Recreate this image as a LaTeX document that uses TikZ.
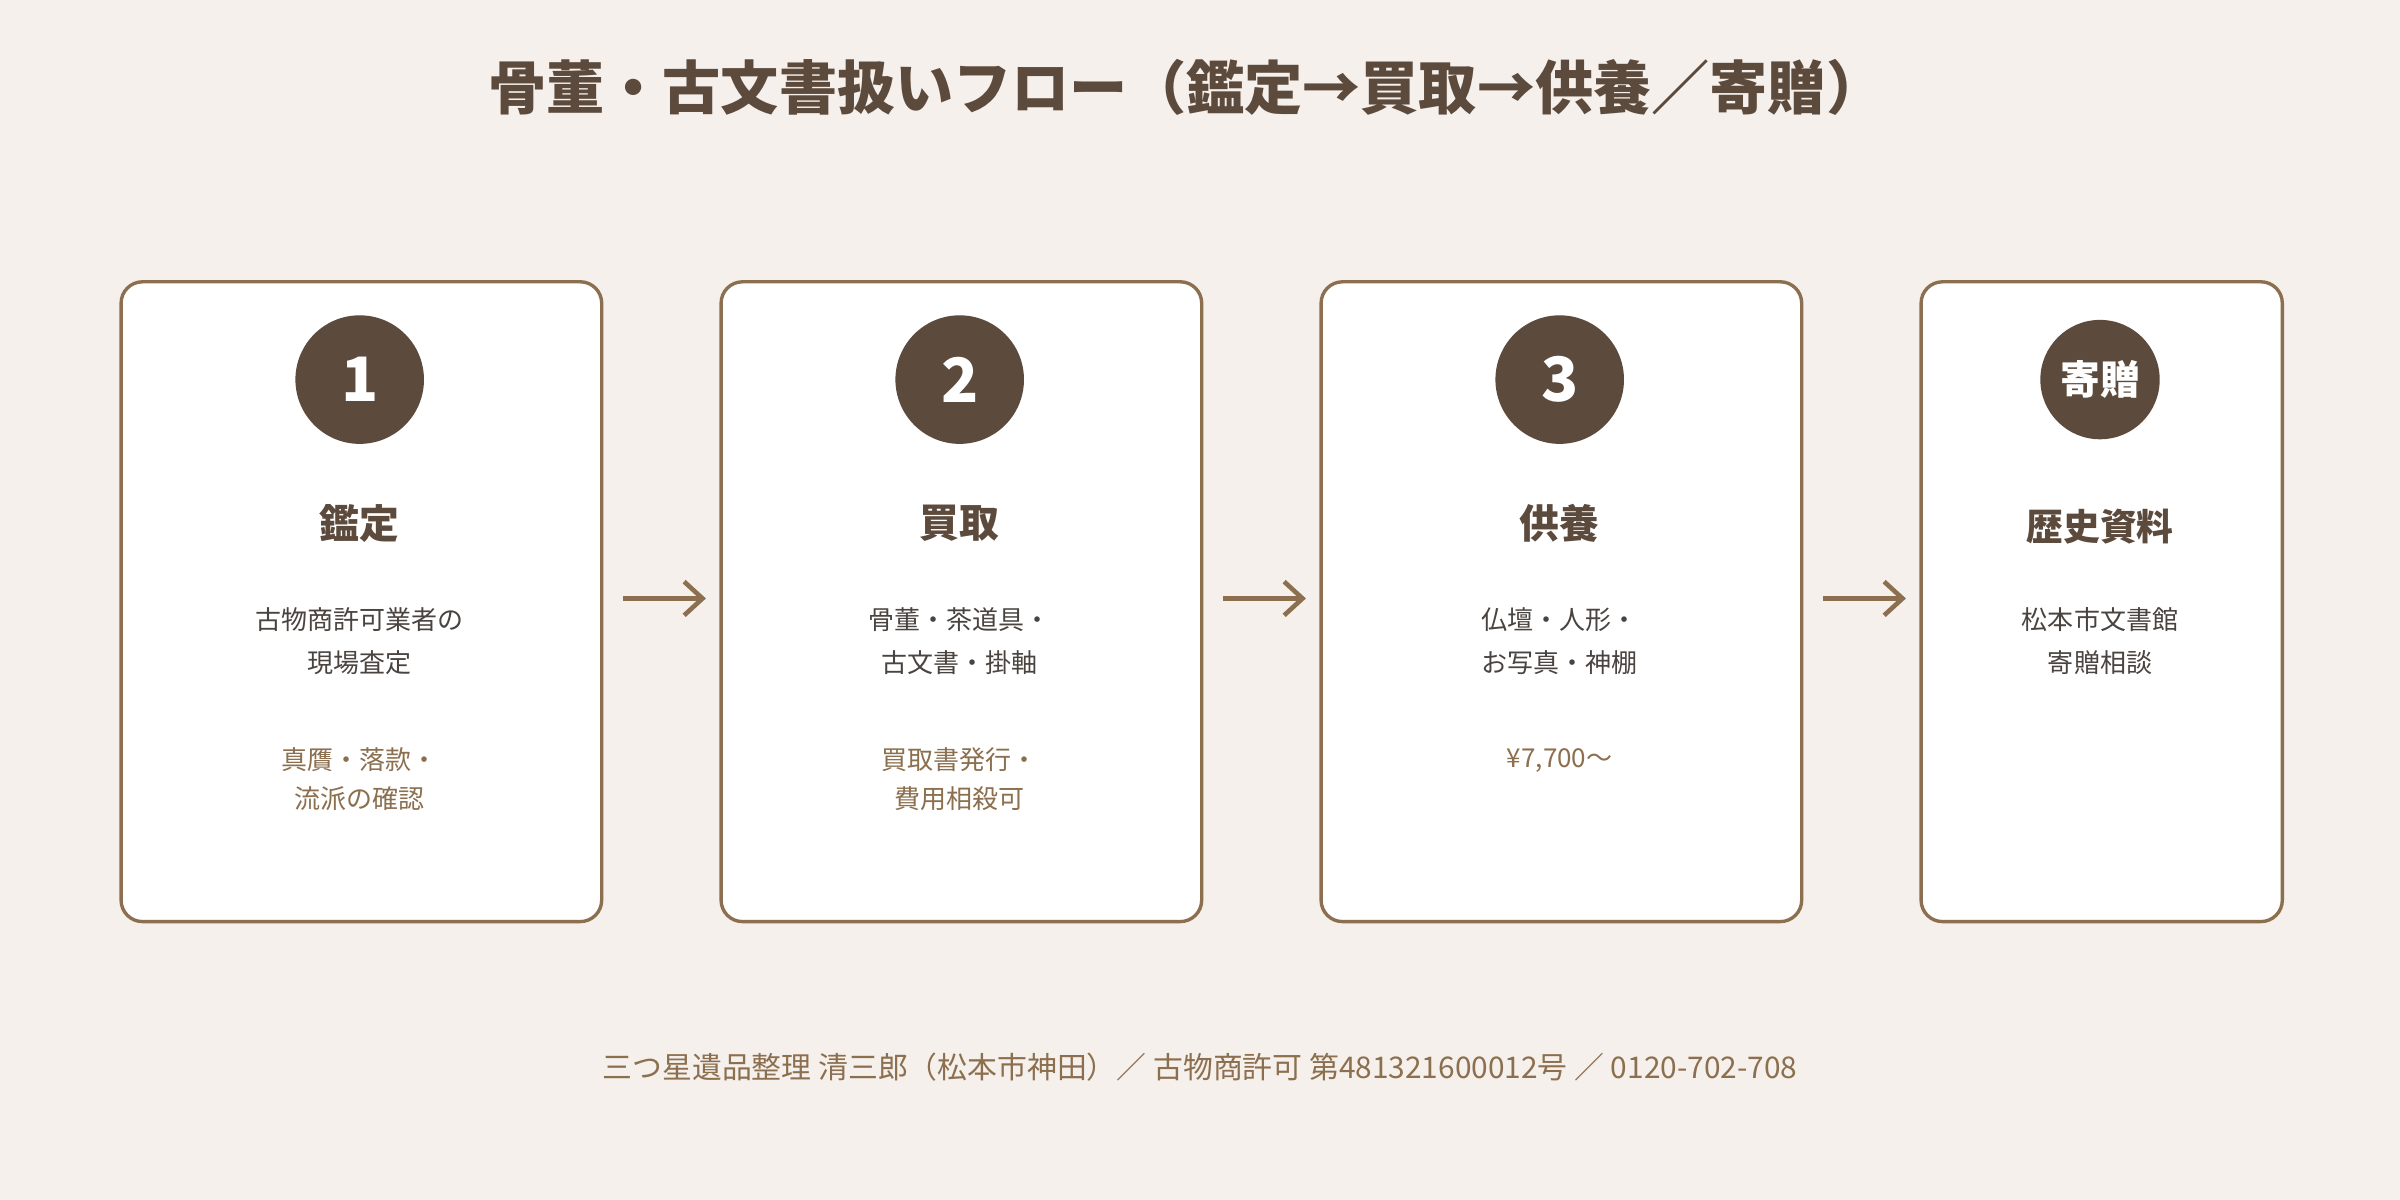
\documentclass[tikz,border=0pt]{standalone}
\usepackage{fontspec}
\setmainfont{Noto Sans CJK JP}
\usetikzlibrary{arrows.meta,positioning}
\definecolor{bgcol}{HTML}{F5F0EB}
\definecolor{darkbrown}{HTML}{5C4A3D}
\definecolor{accent}{HTML}{8B6F4E}
\definecolor{bodytext}{HTML}{4A4440}
\tikzset{
  card/.style={draw=accent,line width=2.2pt,rounded corners=14pt,fill=white,anchor=north west},
  badge/.style={circle,fill=darkbrown,text=white,minimum size=84pt,inner sep=0pt,font=\fontsize{40}{40}\selectfont\bfseries},
  steptitle/.style={text=darkbrown,font=\fontsize{26}{30}\selectfont\bfseries},
  body/.style={text=bodytext,align=center,font=\fontsize{17}{28}\selectfont},
  note/.style={text=accent,align=center,font=\fontsize{17}{26}\selectfont},
  flow/.style={accent,line width=3pt,-{Straight Barb[length=12pt,width=22pt]}}
}
\begin{document}
\begin{tikzpicture}[x=1pt,y=-1pt]
  \fill[bgcol] (0,0) rectangle (1568,784);
  \useasboundingbox (0,0) rectangle (1568,784);
  \node[text=darkbrown,font=\fontsize{38}{42}\selectfont\bfseries] (title) at (775,57) {骨董・古文書扱いフロー（鑑定→買取→供養／寄贈）};
  % cards
  \node[card,minimum width=314pt,minimum height=418pt] (c1) at (78,183) {};
  \node[card,minimum width=314pt,minimum height=418pt] (c2) at (470,183) {};
  \node[card,minimum width=314pt,minimum height=418pt] (c3) at (862,183) {};
  \node[card,minimum width=236pt,minimum height=418pt] (c4) at (1254,183) {};
  % step 1
  \node[badge] (b1) at (235,248) {1};
  \node[steptitle] (t1) at (235,342) {鑑定};
  \node[body] (d1) at (235,419) {古物商許可業者の\\現場査定};
  \node[note] (n1) at (235,509) {真贋・落款・\\流派の確認};
  % step 2
  \node[badge] (b2) at (627,248) {2};
  \node[steptitle] (t2) at (627,342) {買取};
  \node[body] (d2) at (627,419) {骨董・茶道具・\\古文書・掛軸};
  \node[note] (n2) at (627,509) {買取書発行・\\費用相殺可};
  % step 3
  \node[badge] (b3) at (1019,248) {3};
  \node[steptitle] (t3) at (1019,342) {供養};
  \node[body] (d3) at (1019,419) {仏壇・人形・\\お写真・神棚};
  \node[note] (n3) at (1019,497) {¥7,700〜};
  % donation
  \node[badge,minimum size=78pt,font=\fontsize{26}{26}\selectfont\bfseries] (b4) at (1372,248) {寄贈};
  \node[steptitle,font=\fontsize{24}{28}\selectfont\bfseries] (t4) at (1372,344) {歴史資料};
  \node[body] (d4) at (1372,419) {松本市文書館\\寄贈相談};
  % arrows
  \draw[flow] (c1.east |- 0,391) ++(13,0) coordinate (a1) -- ++(54,0) coordinate (e1);
  \draw[flow] (c2.east |- 0,391) ++(13,0) coordinate (a2) -- ++(54,0) coordinate (e2);
  \draw[flow] (c3.east |- 0,391) ++(13,0) coordinate (a3) -- ++(54,0) coordinate (e3);
  \node[text=accent,font=\fontsize{19.5}{22}\selectfont] (foot) at (784,697) {三つ星遺品整理 清三郎（松本市神田）／ 古物商許可 第481321600012号 ／ 0120-702-708};
\end{tikzpicture}
\end{document}
